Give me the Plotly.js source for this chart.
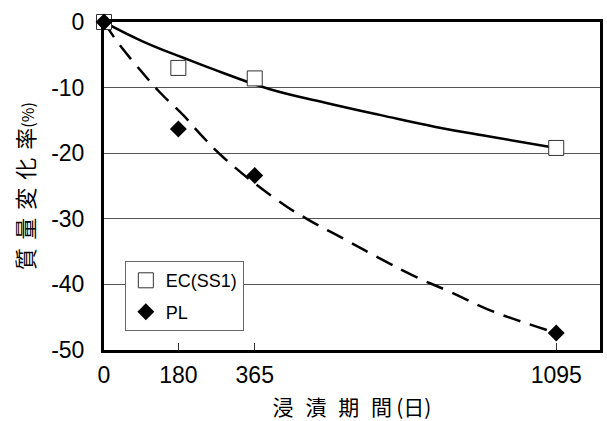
<!DOCTYPE html>
<html><head><meta charset="utf-8">
<script src="https://cdn.plot.ly/plotly-3.0.1.min.js"></script>
<style>html,body{margin:0;padding:0;background:#fff}</style>
</head><body><div id="chart" style="width:607px;height:421px"></div>
<script>
// measured points
const days = [0, 180, 365, 1095];
const ecValues = [0, -7.0, -8.6, -19.2];
const plValues = [0, -16.3, -23.4, -47.4];
// fitted trend curves
const ecFitDays = [0, 92, 192, 292, 402, 536, 670, 803, 937, 1095];
const ecFitValues = [0, -2.9, -5.45, -7.85, -10.25, -12.3, -14.2, -16.0, -17.5, -19.2];
const plFitDays = [0, 32, 78, 138, 192, 232, 292, 421, 491, 582, 670, 750, 840, 929, 1017, 1095];
const plFitValues = [0, -3.0, -6.6, -10.9, -14.2, -17.0, -20.8, -27.2, -30.0, -33.1, -36.1, -38.7, -41.2, -43.8, -45.8, -47.4];
const xTickVals = [0, 180, 365, 1095];
const xTickText = ['0', '180', '365', '1095'];
const yTickVals = [0, -10, -20, -30, -40, -50];
const yTickText = ['0', '-10', '-20', '-30', '-40', '-50'];
const seriesNames = ['EC(SS1)', 'PL'];

const latin = 'Liberation Sans, Arial, sans-serif';
const cjk = 'Noto Sans CJK JP, sans-serif';

const traces = [
  {x: ecFitDays, y: ecFitValues, mode: 'lines', line: {color: '#000', width: 2.5, shape: 'spline', smoothing: 1.3}, showlegend: false, hoverinfo: 'skip'},
  {x: plFitDays, y: plFitValues, mode: 'lines', line: {color: '#000', width: 2.5, dash: '18px,10px', shape: 'spline', smoothing: 1.3}, showlegend: false, hoverinfo: 'skip'},
  {x: days, y: ecValues, name: seriesNames[0], mode: 'markers', legendgroup: 'a', cliponaxis: false,
   marker: {symbol: 'square', size: 15, color: '#fff', line: {color: '#333', width: 1}}},
  {x: days, y: plValues, name: seriesNames[1], mode: 'markers', legendgroup: 'b', cliponaxis: false,
   marker: {symbol: 'diamond', size: 13, color: '#000', line: {color: '#000', width: 0}}}
];

const layout = {
  width: 607, height: 421,
  margin: {l: 104, r: 4, t: 22, b: 71, pad: 0},
  paper_bgcolor: '#fff', plot_bgcolor: '#fff',
  showlegend: true,
  legend: {x: 0.042, y: 0.271, xanchor: 'left', yanchor: 'top', bgcolor: '#fff',
    bordercolor: '#666', borderwidth: 1, font: {family: latin, size: 18, color: '#000'},
    traceorder: 'grouped', tracegroupgap: 5, itemwidth: 30},
  xaxis: {
    range: [0, 1201], tickmode: 'array', tickvals: xTickVals, ticktext: xTickText,
    ticks: 'inside', ticklen: 7, tickwidth: 1, tickcolor: '#333',
    showline: true, linewidth: 3, linecolor: '#000', mirror: true,
    showgrid: false, zeroline: false, ticklabelstandoff: 2,
    tickfont: {family: latin, size: 23, color: '#000'},
    title: {text: '浸\u2002\u200A漬\u2002\u200A期\u2002\u200A間\u2009(日)', font: {family: cjk, size: 21, color: '#000'}}
  },
  yaxis: {
    range: [-50, 0], tickmode: 'array', tickvals: yTickVals, ticktext: yTickText,
    ticks: '', showline: true, linewidth: 3, linecolor: '#000', mirror: true,
    showgrid: true, gridcolor: '#555', gridwidth: 1, zeroline: false, ticklabelstandoff: 12,
    automargin: true,
    tickfont: {family: latin, size: 23, color: '#000'},
    title: {text: '質\u2006\u2009量\u2006\u2009変\u2006\u2009化\u2006\u2009率<span style="font-size:16px">(%)</span>', standoff: 11, font: {family: cjk, size: 22, color: '#000'}}
  }
};

Plotly.newPlot('chart', traces, layout, {staticPlot: true, displayModeBar: false});
</script></body></html>
